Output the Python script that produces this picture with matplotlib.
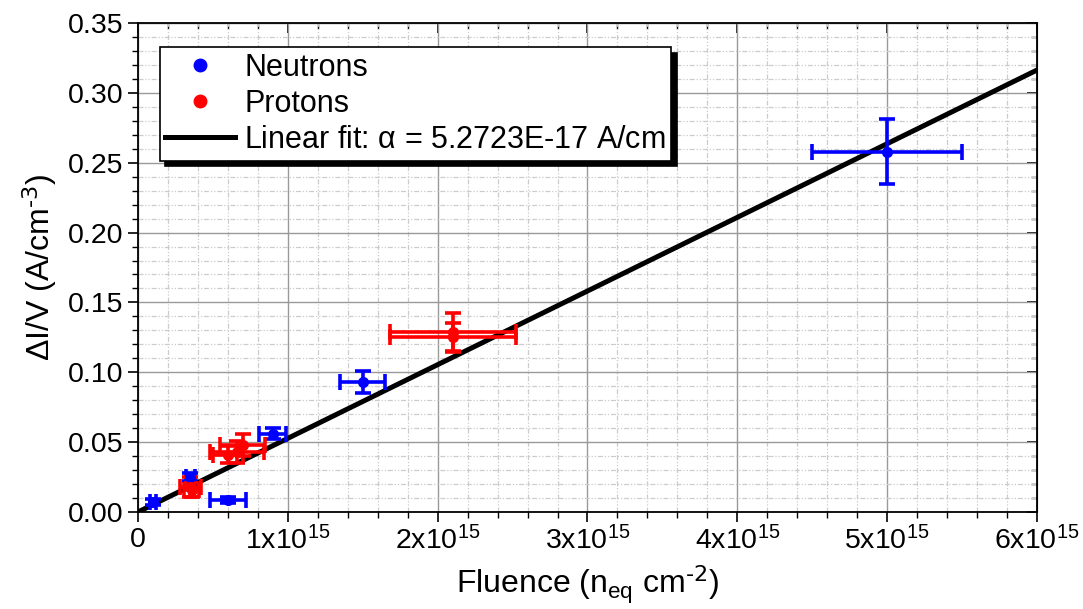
import numpy as np
import matplotlib.pyplot as plt
from matplotlib.lines import Line2D
from matplotlib.ticker import MultipleLocator, FuncFormatter

plt.rcParams["font.family"] = ["Liberation Sans", "DejaVu Sans"]
plt.rcParams["mathtext.default"] = "regular"

# neutron irradiated samples
n_fluence = np.array([0.10e15, 0.35e15, 0.60e15, 0.90e15, 1.50e15, 5.00e15])
n_current = np.array([0.0072, 0.025, 0.0086, 0.056, 0.093, 0.258])
n_fluence_err = np.array([0.02e15, 0.03e15, 0.12e15, 0.09e15, 0.15e15, 0.50e15])
n_current_err = np.array([0.002, 0.003, 0.002, 0.004, 0.008, 0.023])

# proton irradiated samples
p_fluence = np.array([0.35e15, 0.36e15, 0.60e15, 0.66e15, 0.70e15, 2.10e15, 2.10e15])
p_current = np.array([0.018, 0.016, 0.041, 0.043, 0.048, 0.1285, 0.1250])
p_fluence_err = np.array([0.07e15, 0.05e15, 0.10e15, 0.18e15, 0.15e15, 0.42e15, 0.42e15])
p_current_err = np.array([0.007, 0.005, 0.006, 0.008, 0.008, 0.014, 0.010])

alpha_fit = 5.2723e-17
fit_range = np.array([0.0, 6.0e15])


def sci_label(v, pos):
    if v == 0:
        return "0"
    return r"%dx10$^{15}$" % round(v / 1e15)


fig = plt.figure(figsize=(10.83, 6.09), dpi=100)
ax = fig.add_axes([0.1274, 0.1593, 0.8301, 0.8029])

ax.plot(fit_range, alpha_fit * fit_range, color="black", lw=3.6, zorder=3)
err_kw = dict(fmt="o", ms=7, elinewidth=2.6, capsize=6, capthick=2.6, zorder=4)
ax.errorbar(n_fluence, n_current, xerr=n_fluence_err, yerr=n_current_err,
            color="#0000ff", **err_kw)
ax.errorbar(p_fluence, p_current, xerr=p_fluence_err, yerr=p_current_err,
            color="#ff0000", **err_kw)

ax.set_xlim(0, 6e15)
ax.set_ylim(0, 0.35)
ax.xaxis.set_major_locator(MultipleLocator(1e15))
ax.xaxis.set_minor_locator(MultipleLocator(0.2e15))
ax.yaxis.set_major_locator(MultipleLocator(0.05))
ax.yaxis.set_minor_locator(MultipleLocator(0.01))
ax.xaxis.set_major_formatter(FuncFormatter(sci_label))
ax.yaxis.set_major_formatter(FuncFormatter(lambda v, p: "%.2f" % v))

ax.grid(which="major", color="#999999", lw=1.0)
ax.grid(which="minor", color="#cccccc", lw=0.9, linestyle=(0, (4, 1.5, 1, 1.5, 1, 1.5)))
ax.set_axisbelow(True)

ax.tick_params(which="major", direction="out", length=7, width=1.2, labelsize=20.5)
ax.tick_params(which="minor", direction="out", length=4, width=1.0)
for s in ax.spines.values():
    s.set_linewidth(1.3)

top = ax.secondary_xaxis("top")
top.xaxis.set_major_locator(MultipleLocator(1e15))
top.xaxis.set_minor_locator(MultipleLocator(0.2e15))
top.tick_params(which="major", direction="in", length=7, width=1.2, labeltop=False)
top.tick_params(which="minor", direction="in", length=4, width=1.0)
right = ax.secondary_yaxis("right")
right.yaxis.set_major_locator(MultipleLocator(0.05))
right.yaxis.set_minor_locator(MultipleLocator(0.01))
right.tick_params(which="major", direction="in", length=7, width=1.2, labelright=False)
right.tick_params(which="minor", direction="in", length=4, width=1.0)

ax.set_xlabel(r"Fluence (n$_{eq}$ cm$^{\text{-2}}$)", fontsize=23, labelpad=6)
ax.set_ylabel(r"ΔI/V (A/cm$^{\text{-3}}$)", fontsize=23, labelpad=6)

handles = [
    Line2D([], [], ls="none", marker="o", ms=9, color="#0000ff"),
    Line2D([], [], ls="none", marker="o", ms=9, color="#ff0000"),
    Line2D([], [], color="black", lw=3.6),
]
labels = ["Neutrons", "Protons", r"Linear fit: $\alpha$ = 5.2723E-17 A/cm"]
leg = ax.legend(handles, labels, loc="upper left", bbox_to_anchor=(0.024, 0.95),
                fontsize=22, frameon=True, fancybox=False, edgecolor="black",
                shadow={"color": "black", "alpha": 1.0, "ox": 4, "oy": -4},
                handlelength=2.3, handletextpad=0.3, borderpad=0.18,
                labelspacing=0.2, borderaxespad=0)
leg.get_frame().set_linewidth(1.2)

fig.savefig("out.png", dpi=100)
